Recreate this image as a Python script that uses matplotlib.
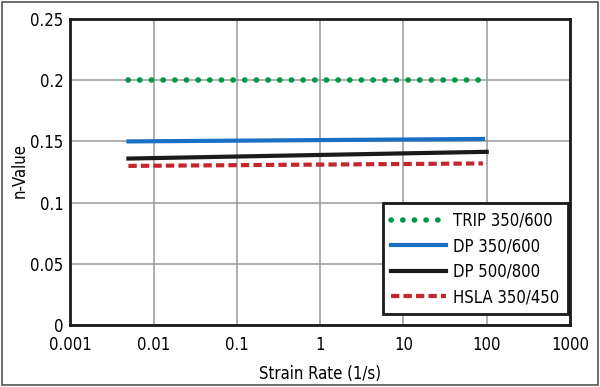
import matplotlib
matplotlib.use("Agg")
import matplotlib.pyplot as plt
from matplotlib.patches import Rectangle

plt.rcParams["font.family"] = ["DejaVu Sans"]
plt.rcParams["font.stretch"] = "condensed"

# strain rate end points (1/s) and n-values
series_names = ["TRIP 350/600", "DP 350/600", "DP 500/800", "HSLA 350/450"]
rate_trip = [0.005, 90]
n_trip = [0.200, 0.200]
rate_dp350 = [0.005, 90]
n_dp350 = [0.150, 0.152]
rate_dp500 = [0.005, 100]
n_dp500 = [0.136, 0.1415]
rate_hsla = [0.005, 90]
n_hsla = [0.130, 0.132]

x_ticks = [0.001, 0.01, 0.1, 1, 10, 100, 1000]
x_ticklabels = ["0.001", "0.01", "0.1", "1", "10", "100", "1000"]
y_ticks = [0, 0.05, 0.1, 0.15, 0.2, 0.25]
y_ticklabels = ["0", "0.05", "0.1", "0.15", "0.2", "0.25"]

fig = plt.figure(figsize=(6, 3.87), dpi=100)
ax = fig.add_axes([0.117, 0.160, 0.833, 0.791])

ax.plot(rate_trip, n_trip, color="#00994a", lw=4.0, ls=(0, (0.05, 2.05)),
        dash_capstyle="round", label=series_names[0])
ax.plot(rate_dp350, n_dp350, color="#1a6fc2", lw=3.0, label=series_names[1])
ax.plot(rate_dp500, n_dp500, color="#1a1a1a", lw=3.0, label=series_names[2])
ax.plot(rate_hsla, n_hsla, color="#c4262e", lw=3.0, ls=(0, (2.0, 1.0)),
        label=series_names[3])

ax.set_xscale("log")
ax.set_xlim(0.001, 1000)
ax.set_ylim(0, 0.25)
ax.set_xticks(x_ticks)
ax.set_xticklabels(x_ticklabels)
ax.minorticks_off()
ax.set_yticks(y_ticks)
ax.set_yticklabels(y_ticklabels)
ax.tick_params(axis="x", length=0, labelsize=12, pad=8)
ax.tick_params(axis="y", length=0, labelsize=12, pad=5)
ax.grid(True, color="#999999", lw=1.1)
ax.set_axisbelow(True)
for s in ax.spines.values():
    s.set_linewidth(2.0)
    s.set_color("#1a1a1a")

ax.set_xlabel("Strain Rate (1/s)", fontsize=12, labelpad=8)
ax.set_ylabel("n-Value", fontsize=12)
ax.yaxis.set_label_coords(-0.084, 0.505)

leg = ax.legend(loc="lower right", bbox_to_anchor=(0.995, 0.035), fontsize=12,
                frameon=True, fancybox=False, framealpha=1, edgecolor="#1a1a1a",
                handlelength=3.3, labelspacing=0.45, handletextpad=0.4,
                borderpad=0.5, borderaxespad=0)
leg.get_frame().set_linewidth(2.0)

fig.patches.append(Rectangle((0.003, 0.004), 0.994, 0.992, transform=fig.transFigure,
                             fill=False, edgecolor="#555555", lw=1.2))

fig.savefig("out.png", dpi=100)
